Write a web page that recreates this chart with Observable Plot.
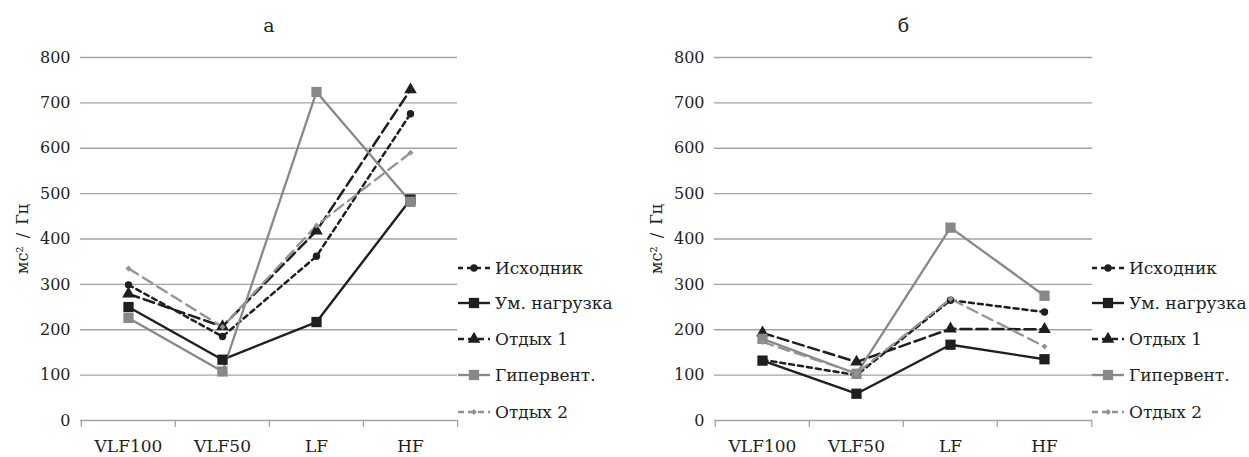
<!DOCTYPE html>
<html>
<head>
<meta charset="utf-8">
<script src="https://cdn.jsdelivr.net/npm/d3@7"></script>
<script src="https://cdn.jsdelivr.net/npm/@observablehq/plot@0.6"></script>
<style>
  html, body { margin: 0; padding: 0; background: #fff; }
  #wrap { position: relative; width: 1249px; height: 457px; display: flex; font-family: "DejaVu Serif", "Liberation Serif", serif; color: #231f20; }
  #wrap svg text { font-family: "DejaVu Serif", "Liberation Serif", serif; }
  .legend { position: absolute; font-size: 17px; font-family: "DejaVu Serif", "Liberation Serif", serif; color: #231f20; }
  .legend .row { position: absolute; left: 0; display: flex; align-items: center; white-space: nowrap; height: 20px; }
  .legend svg { display: block; margin-right: 5px; }
</style>
</head>
<body>
<div id="wrap"></div>
<script>
// ---- data ----
const categories = ["VLF100", "VLF50", "LF", "HF"];
const seriesNames = ["Исходник", "Ум. нагрузка", "Отдых 1", "Гипервент.", "Отдых 2"];
const yTicks = [0, 100, 200, 300, 400, 500, 600, 700, 800];
const panelTitles = ["а", "б"];
const yLabel = "мс\u00B2\u2002/\u2002Гц";

// panel а
const aIshodnik  = [299, 185, 362, 676];
const aNagruzka  = [250, 134, 217, 487];
const aOtdyh1    = [279, 207, 418, 729];
const aGipervent = [226, 108, 724, 482];
const aOtdyh2    = [335, 206, 430, 590];
// panel б
const bIshodnik  = [134, 100, 265, 239];
const bNagruzka  = [132,  59, 167, 135];
const bOtdyh1    = [193, 129, 202, 201];
const bGipervent = [180, 103, 425, 275];
const bOtdyh2    = [173, 104, 268, 163];

// ---- styles ----
const FONT = "DejaVu Serif";
const colors  = ["#1f1f1f", "#1f1f1f", "#1f1f1f", "#888888", "#939393"];
const dashes  = ["5,4", null, "11,5", null, "11,6"];
const widths  = [2.5, 2.4, 2.5, 2.3, 2.3];
const symbols = ["circle", "square", "triangle", "square", "diamond2"];
const radii   = [3.7, 5.8, 4.7, 5.8, 2.7];

function toRows(seriesArrays) {
  const rows = [];
  seriesArrays.forEach((vals, si) => {
    vals.forEach((v, ci) => rows.push({series: seriesNames[si], si, cat: categories[ci], value: v}));
  });
  return rows;
}

function panel(title, seriesArrays, width, marginRight) {
  const rows = toRows(seriesArrays);
  const marginLeft = 80, marginTop = 57, marginBottom = 37, height = 457;
  const innerW = width - marginLeft - marginRight;
  const step = innerW / categories.length;
  const innerH = height - marginTop - marginBottom;
  const marks = [
    Plot.ruleY(yTicks, {stroke: "#a3a3a3", strokeWidth: 1.3}),
    Plot.axisY({ticks: yTicks, tickSize: 0, tickPadding: 10, fontSize: 16, fontFamily: FONT, label: null}),
    Plot.axisX({tickSize: 0, tickPadding: 19, fontSize: 17, fontFamily: FONT, label: null}),
    // tick marks at category boundaries
    Plot.ruleX(categories, {x: d => d, dx: -step / 2, insetTop: innerH, insetBottom: -7, stroke: "#a3a3a3", strokeWidth: 1.3}),
    Plot.ruleX([categories[categories.length - 1]], {x: d => d, dx: step / 2, insetTop: innerH, insetBottom: -7, stroke: "#a3a3a3", strokeWidth: 1.3}),
    Plot.text([yLabel], {frameAnchor: "left", textAnchor: "middle", dx: -58, rotate: -90, fontSize: 16, fontFamily: FONT, fill: "#231f20"}),
    Plot.text([title], {frameAnchor: "top", textAnchor: "middle", dy: -39, fontSize: 19, fontFamily: FONT, fill: "#231f20"})
  ];
  seriesNames.forEach((name, si) => {
    const data = rows.filter(r => r.si === si);
    marks.push(Plot.line(data, {x: "cat", y: "value", stroke: colors[si], strokeWidth: widths[si], strokeDasharray: dashes[si]}));
  });
  seriesNames.forEach((name, si) => {
    const data = rows.filter(r => r.si === si);
    marks.push(Plot.dot(data, {x: "cat", y: "value", symbol: symbols[si], r: radii[si], fill: colors[si], stroke: "none"}));
  });
  return Plot.plot({
    width, height, marginLeft, marginRight, marginTop, marginBottom,
    style: {fontFamily: FONT, fontSize: "15px", color: "#231f20", background: "white"},
    x: {type: "point", domain: categories, padding: 0.5, label: null},
    y: {domain: [0, 800], label: null},
    marks
  });
}

function legend(left) {
  const div = document.createElement("div");
  div.className = "legend";
  div.style.left = left + "px";
  div.style.top = "0px";
  const rowY = [268, 303, 339, 375, 412];
  const sym = {circle: d3.symbolCircle, square: d3.symbolSquare, triangle: d3.symbolTriangle, diamond2: d3.symbolDiamond2};
  seriesNames.forEach((name, si) => {
    const row = document.createElement("div");
    row.className = "row";
    row.style.top = (rowY[si] - 10) + "px";
    const s = d3.create("svg").attr("width", 32).attr("height", 20);
    s.append("line").attr("x1", 0).attr("x2", 32).attr("y1", 10).attr("y2", 10)
      .attr("stroke", colors[si]).attr("stroke-width", widths[si])
      .attr("stroke-dasharray", dashes[si] ? (si === 0 ? "5,4" : "6,4") : null);
    s.append("path").attr("transform", "translate(16,10)")
      .attr("d", d3.symbol(sym[symbols[si]], Math.PI * radii[si] * radii[si])())
      .attr("fill", colors[si]);
    row.appendChild(s.node());
    const t = document.createElement("span");
    t.textContent = name;
    row.appendChild(t);
    div.appendChild(row);
  });
  return div;
}

const wrap = document.getElementById("wrap");
wrap.appendChild(panel(panelTitles[0], [aIshodnik, aNagruzka, aOtdyh1, aGipervent, aOtdyh2], 634, 177));
wrap.appendChild(panel(panelTitles[1], [bIshodnik, bNagruzka, bOtdyh1, bGipervent, bOtdyh2], 615, 157));
wrap.appendChild(legend(458));
wrap.appendChild(legend(1092));
</script>
</body>
</html>
